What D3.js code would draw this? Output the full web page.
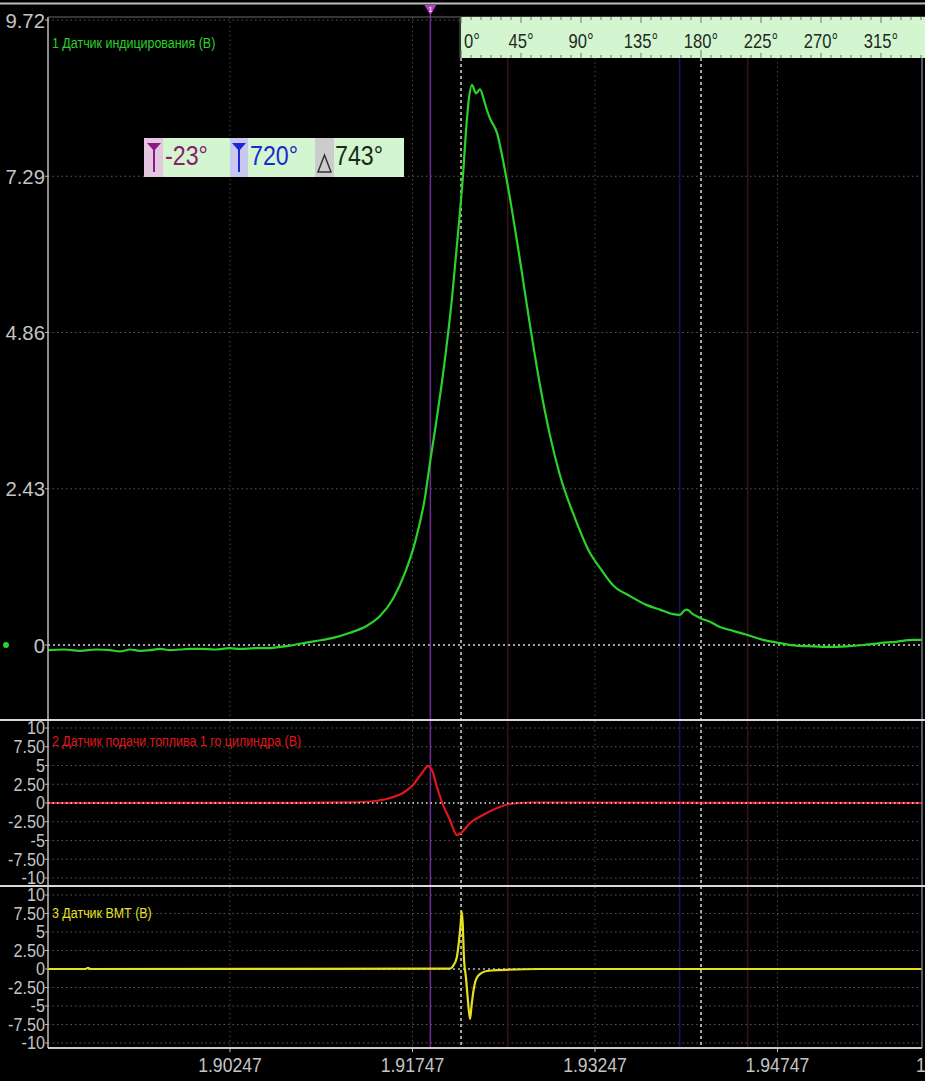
<!DOCTYPE html>
<html><head><meta charset="utf-8">
<script src="https://cdn.jsdelivr.net/npm/d3@7"></script>
<style>
html,body{margin:0;padding:0;background:#000;}
svg{display:block;}
text{font-family:"Liberation Sans","Arial",sans-serif;}
</style></head><body>
<svg id="chart" width="925" height="1081"></svg>
<script>
// ---- Channel 1: indicator (cylinder pressure) sensor, volts ----
const ch1Time = [1.88751,1.88883,1.89014,1.89146,1.89261,1.89343,1.89425,1.89507,1.89590,1.89672,
  1.89754,1.89836,1.89918,1.90000,1.90124,1.90247,1.90329,1.90453,1.90551,1.90658,1.90740,1.90822,
  1.90946,1.91094,1.91233,1.91373,1.91480,1.91587,1.91685,1.91768,1.91850,1.91891,1.91932,1.92014,
  1.92072,1.92121,1.92162,1.92187,1.92211,1.92236,1.92269,1.92302,1.92335,1.92359,1.92384,1.92442,
  1.92507,1.92565,1.92631,1.92713,1.92795,1.92877,1.92959,1.93083,1.93206,1.93288,1.93395,1.93535,
  1.93674,1.93781,1.93888,1.93946,1.93978,1.94003,1.94052,1.94110,1.94192,1.94274,1.94381,1.94496,
  1.94628,1.94767,1.94899,1.95039,1.95178,1.95318,1.95450,1.95589,1.95721,1.95861,1.95935];
const ch1Volts = [-0.08,-0.07,-0.09,-0.07,-0.08,-0.10,-0.07,-0.09,-0.08,-0.06,
  -0.08,-0.07,-0.06,-0.06,-0.07,-0.05,-0.06,-0.05,-0.05,-0.03,-0.01,0.02,
  0.06,0.11,0.19,0.30,0.45,0.72,1.12,1.60,2.30,2.84,3.34,4.45,
  5.40,6.40,7.30,8.00,8.50,8.71,8.58,8.64,8.47,8.32,8.19,7.96,
  7.38,6.76,5.98,4.97,4.04,3.26,2.64,1.97,1.43,1.20,0.93,0.76,
  0.62,0.55,0.48,0.47,0.53,0.55,0.48,0.42,0.36,0.28,0.22,0.16,
  0.08,0.03,-0.01,-0.02,-0.03,-0.02,0.00,0.03,0.05,0.08,0.08];

// ---- Channel 2: fuel feed sensor, cylinder 1 ----
const ch2Time = [1.88751,1.90822,1.91233,1.91398,1.91562,1.91669,1.91751,1.91825,1.91874,1.91907,
  1.91948,1.91989,1.92055,1.92113,1.92154,1.92220,1.92326,1.92442,1.92548,1.92713,1.95935];
const ch2Volts = [0.00,0.03,0.08,0.20,0.67,1.33,2.40,4.00,4.93,4.40,
  2.13,0.13,-2.27,-4.27,-3.87,-2.67,-1.60,-0.67,-0.13,0.07,0.00];

// ---- Channel 3: TDC sensor ----
const ch3Time = [1.88751,1.89060,1.89080,1.89100,1.92055,1.92080,1.92110,1.92129,1.92143,1.92151,
  1.92160,1.92170,1.92187,1.92203,1.92220,1.92234,1.92252,1.92285,1.92359,1.92466,1.92795,1.95935];
const ch3Volts = [0,0,0.15,0,0.04,0.40,1.49,3.78,6.08,7.84,
  6.08,1.49,-1.22,-4.32,-6.76,-4.73,-2.57,-0.95,-0.27,-0.14,0,0];

// ---- Axes ----
const timeDomain = [1.88751, 1.95935];
const timeTicks = [1.90247, 1.91747, 1.93247, 1.94747];
const timeEdgeLabel = "1.96247";
const ch1Ticks = [0, 2.43, 4.86, 7.29, 9.72];
const ch1TickLabels = ["0", "2.43", "4.86", "7.29", "9.72"];
const ch23Ticks = [10, 7.5, 5, 2.5, 0, -2.5, -5, -7.5, -10];
const ch23TickLabels = ["10", "7.50", "5", "2.50", "0", "-2.50", "-5", "-7.50", "-10"];

// ---- Crank angle reference ----
const tdcTime = 1.92146;        // 0°
const cycleEndTime = 1.96091;   // 360°
const angleTicks = [0, 45, 90, 135, 180, 225, 270, 315];
const angleLabels = ["0°", "45°", "90°", "135°", "180°", "225°", "270°", "315°"];
const cursorA = -23, cursorB = 720, cursorDelta = 743;
const dashedAngles = [0, 180];
const faintAngleLines = [35, 164, 215];
const faintAngleColors = ["#3c1014", "#15155e", "#3c1014"];

const titles = ["1 Датчик индицирования (В)", "2 Датчик подачи топлива 1 го цилиндра (В)", "3 Датчик ВМТ (В)"];
const colors = ["#2ad22a", "#e0161e", "#e6e020"];

const svg = d3.select("#chart");
svg.append("rect").attr("width", 925).attr("height", 1081).attr("fill", "#000");

// condensed lettering: squeeze text horizontally around its anchor point
function condense(sel, s) {
  sel.each(function () {
    const t = d3.select(this);
    const px = +t.attr("x"), py = +t.attr("y");
    t.attr("x", 0).attr("y", 0).attr("transform", `translate(${px},${py}) scale(${s},1)`);
  });
  return sel;
}

const L = 48, R = 922;
const x = d3.scaleLinear().domain(timeDomain).range([L, R]);
const ang = d3.scaleLinear().domain([0, 360]).range([x(tdcTime), x(cycleEndTime)]);

const panels = [
  {top: 17, bottom: 720, y: d3.scaleLinear().domain([0, 9.72]).range([645, 20]),
   ticks: ch1Ticks, labels: ch1TickLabels, t: ch1Time, v: ch1Volts, titleY: 48, fs: 21},
  {top: 721, bottom: 886, y: d3.scaleLinear().domain([-10, 10]).range([878, 728]),
   ticks: ch23Ticks, labels: ch23TickLabels, t: ch2Time, v: ch2Volts, titleY: 746, fs: 18},
  {top: 887, bottom: 1048, y: d3.scaleLinear().domain([-10, 10]).range([1043, 895]),
   ticks: ch23Ticks, labels: ch23TickLabels, t: ch3Time, v: ch3Volts, titleY: 918, fs: 18}
];

const defs = svg.append("defs");
panels.forEach((p, i) => {
  defs.append("clipPath").attr("id", "clip" + i)
    .append("rect").attr("x", L).attr("y", p.top).attr("width", R - L).attr("height", p.bottom - p.top);
});

// top border strip
svg.append("line").attr("x1", 0).attr("x2", 925).attr("y1", 3.5).attr("y2", 3.5)
  .attr("stroke", "#bdbdbd").attr("stroke-width", 2);

// grid
panels.forEach((p, i) => {
  const g = svg.append("g").attr("clip-path", `url(#clip${i})`);
  g.selectAll("line.h").data(p.ticks.filter(d => d !== 0)).join("line")
    .attr("x1", L).attr("x2", R).attr("y1", d => p.y(d)).attr("y2", d => p.y(d))
    .attr("stroke", "#5a5a5a").attr("stroke-width", 1).attr("stroke-dasharray", "1.5,3");
  g.selectAll("line.v").data(timeTicks).join("line")
    .attr("x1", d => x(d)).attr("x2", d => x(d)).attr("y1", p.top).attr("y2", p.bottom)
    .attr("stroke", "#4a4a4a").attr("stroke-width", 1).attr("stroke-dasharray", "1.5,3");
});

// faint angle markers
svg.selectAll("line.fa").data(faintAngleLines).join("line")
  .attr("x1", d => ang(d)).attr("x2", d => ang(d)).attr("y1", 58).attr("y2", 1048)
  .attr("stroke", (d, i) => faintAngleColors[i]).attr("stroke-width", 1.5);

// zero lines under the traces (channels 1 and 3)
svg.append("line").attr("x1", L).attr("x2", R).attr("y1", panels[0].y(0)).attr("y2", panels[0].y(0))
  .attr("stroke", "#d8d8d8").attr("stroke-width", 1.5).attr("stroke-dasharray", "2,3");
svg.append("line").attr("x1", L).attr("x2", R).attr("y1", panels[2].y(0)).attr("y2", panels[2].y(0))
  .attr("stroke", "#bdbdbd").attr("stroke-width", 1.5).attr("stroke-dasharray", "2,3");

// dashed TDC / BDC lines
svg.selectAll("line.dash").data(dashedAngles).join("line")
  .attr("x1", d => ang(d)).attr("x2", d => ang(d)).attr("y1", 58).attr("y2", 1048)
  .attr("stroke", "#d9d9c8").attr("stroke-width", 1.5).attr("stroke-dasharray", "3,3");

// cursor A
svg.append("line").attr("x1", ang(cursorA)).attr("x2", ang(cursorA)).attr("y1", 8).attr("y2", 1048)
  .attr("stroke", "#6e2a8e").attr("stroke-width", 1.5);

// traces
panels.forEach((p, i) => {
  const pts = p.t.map((t, k) => [t, p.v[k]]);
  svg.append("path").datum(pts).attr("clip-path", `url(#clip${i})`)
    .attr("fill", "none").attr("stroke", colors[i]).attr("stroke-width", 2.2)
    .attr("stroke-linejoin", "round")
    .attr("d", d3.line().x(d => x(d[0])).y(d => p.y(d[1])).curve(d3.curveMonotoneX));
});

// zero line of channel 2 (dots show over the red trace)
svg.append("line").attr("x1", L).attr("x2", R).attr("y1", panels[1].y(0)).attr("y2", panels[1].y(0))
  .attr("stroke", "#e8e8e8").attr("stroke-width", 1.3).attr("stroke-dasharray", "1.5,3");

// frame and axes
svg.append("line").attr("x1", L).attr("x2", L).attr("y1", 17).attr("y2", 1048)
  .attr("stroke", "#bdbdbd").attr("stroke-width", 1.5);
svg.append("line").attr("x1", L).attr("x2", 925).attr("y1", 17).attr("y2", 17)
  .attr("stroke", "#6a6a6a").attr("stroke-width", 1);
svg.append("line").attr("x1", R).attr("x2", R).attr("y1", 17).attr("y2", 1048)
  .attr("stroke", "#6f7488").attr("stroke-width", 1.5);
[720, 886].forEach(yy => svg.append("line").attr("x1", 0).attr("x2", 925).attr("y1", yy).attr("y2", yy)
  .attr("stroke", "#d8d8d8").attr("stroke-width", 2));
svg.append("line").attr("x1", L).attr("x2", R).attr("y1", 1048).attr("y2", 1048)
  .attr("stroke", "#c8c8c8").attr("stroke-width", 2);

// y tick marks, labels and channel titles
panels.forEach((p, i) => {
  const g = svg.append("g");
  g.selectAll("line").data(p.ticks).join("line")
    .attr("x1", L - 3).attr("x2", L).attr("y1", d => p.y(d)).attr("y2", d => p.y(d))
    .attr("stroke", "#bdbdbd");
  condense(g.selectAll("text").data(p.ticks).join("text")
    .attr("x", L - 3).attr("y", d => p.y(d) + p.fs * 0.36)
    .attr("text-anchor", "end").attr("fill", "#c4c4c4")
    .attr("font-size", p.fs)
    .text((d, k) => p.labels[k]), i === 0 ? 0.97 : 0.9);
  condense(svg.append("text").attr("x", 52).attr("y", p.titleY).attr("fill", colors[i])
    .attr("font-size", 15).text(titles[i]), 0.83);
});

// channel 1 zero marker dot
svg.append("circle").attr("cx", 6).attr("cy", panels[0].y(0)).attr("r", 3).attr("fill", "#2ad22a");

// x tick marks and labels
svg.selectAll("line.xt").data(timeTicks).join("line")
  .attr("x1", d => x(d)).attr("x2", d => x(d)).attr("y1", 1048).attr("y2", 1052)
  .attr("stroke", "#c8c8c8");
condense(svg.selectAll("text.xl").data(timeTicks).join("text")
  .attr("x", d => x(d)).attr("y", 1072).attr("text-anchor", "middle")
  .attr("fill", "#c4c4c4").attr("font-size", 21)
  .text(d => d.toFixed(5)), 0.84);
condense(svg.append("text").attr("x", 916).attr("y", 1072).attr("fill", "#c4c4c4").attr("font-size", 21)
  .text(timeEdgeLabel), 0.84);

// crank angle strip
const strip = svg.append("g");
const s0 = ang(0) - 1;
strip.append("rect").attr("x", s0).attr("y", 17).attr("width", 925 - s0).attr("height", 41)
  .attr("fill", "#d3f6d0");
strip.append("line").attr("x1", s0).attr("x2", s0).attr("y1", 17).attr("y2", 58)
  .attr("stroke", "#333").attr("stroke-width", 2);
const minor = d3.range(0, 360, 7.5);
strip.selectAll("line.tt").data(minor).join("line")
  .attr("x1", d => ang(d)).attr("x2", d => ang(d)).attr("y1", 17)
  .attr("y2", d => d % 45 === 0 ? 23 : 20).attr("stroke", "#6a7a6a");
strip.selectAll("line.tb").data(minor).join("line")
  .attr("x1", d => ang(d)).attr("x2", d => ang(d)).attr("y1", 58)
  .attr("y2", d => d % 180 === 0 ? 50 : (d % 45 === 0 ? 53 : 55)).attr("stroke", "#6a7a6a");
condense(strip.selectAll("text").data(angleTicks).join("text")
  .attr("x", d => d === 0 ? ang(d) + 3 : ang(d))
  .attr("y", 48).attr("text-anchor", d => d === 0 ? "start" : "middle")
  .attr("fill", "#1e2a1e").attr("font-size", 20)
  .text((d, k) => angleLabels[k]), 0.83);

// cursor A flag at the top
const ca = ang(cursorA);
svg.append("path").attr("d", `M${ca - 6},5 L${ca + 6},5 L${ca},15 Z`).attr("fill", "#b83cc8");
svg.append("text").attr("x", ca).attr("y", 12).attr("text-anchor", "middle")
  .attr("font-size", 8).attr("fill", "#fff").text("1");

// cursor readout box
const box = svg.append("g").attr("transform", "translate(144,138)");
box.append("rect").attr("width", 260).attr("height", 39).attr("fill", "#d3f6d0");
box.append("rect").attr("x", 0).attr("width", 19).attr("height", 39).attr("fill", "#e4c6e2");
box.append("rect").attr("x", 86).attr("width", 18).attr("height", 39).attr("fill", "#c9c9f0");
box.append("rect").attr("x", 171).attr("width", 19).attr("height", 39).attr("fill", "#cccccc");
function flag(cx, col) {
  box.append("path").attr("d", `M${cx - 7},5 L${cx + 7},5 L${cx},13 Z`).attr("fill", col);
  box.append("line").attr("x1", cx).attr("x2", cx).attr("y1", 8).attr("y2", 34)
    .attr("stroke", col).attr("stroke-width", 2);
}
flag(10, "#8c1a80");
flag(95, "#1e28d8");
box.append("path").attr("d", "M174,34 L187,34 L180.5,17 Z").attr("fill", "none")
  .attr("stroke", "#333").attr("stroke-width", 1.5);
condense(box.append("text").attr("x", 21).attr("y", 27).attr("font-size", 27).attr("fill", "#8a1c70")
  .text(cursorA + "°"), 0.86);
condense(box.append("text").attr("x", 106).attr("y", 27).attr("font-size", 27).attr("fill", "#1a2ad0")
  .text(cursorB + "°"), 0.86);
condense(box.append("text").attr("x", 191).attr("y", 27).attr("font-size", 27).attr("fill", "#1b2a1b")
  .text(cursorDelta + "°"), 0.86);
</script>
</body></html>
